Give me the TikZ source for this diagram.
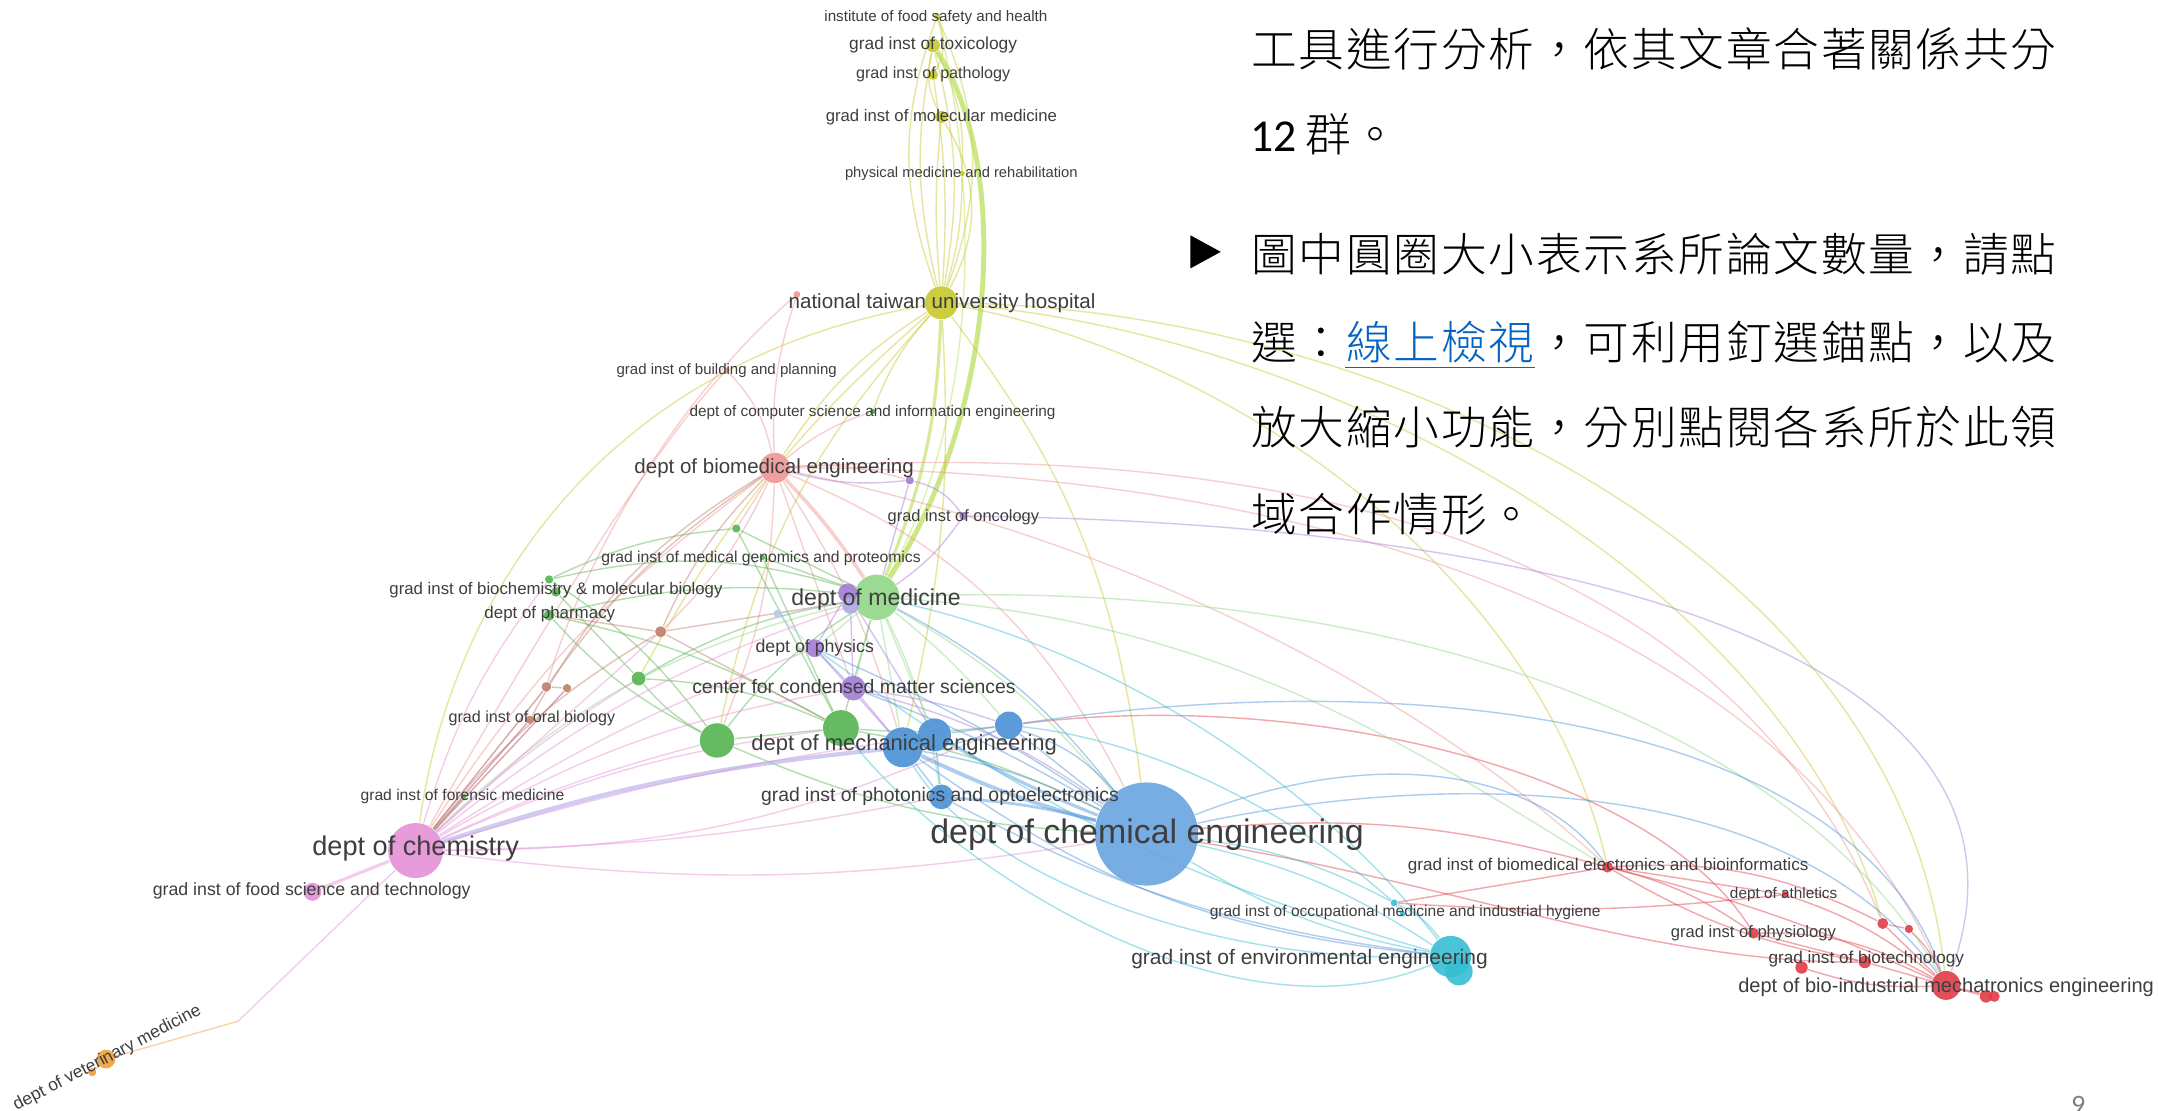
\documentclass[tikz,border=0pt]{standalone}
\usepackage{fontspec}
\usepackage{graphicx}
\setmainfont{Liberation Sans}
\newfontfamily\cjkfont{Noto Sans CJK TC}[UprightFont={* Light}]
\newfontfamily\numfont{Carlito}
\newlength\ux
\setlength{\ux}{0.01376cm}
\newcommand\lb[2]{\resizebox{#1\ux}{!}{\vphantom{dpfgl}#2}}
\ExplSyntaxOn
\NewDocumentCommand\cjkl{m}{\tl_map_inline:nn{#1}{\makebox[34.5\ux]{##1}}}
\ExplSyntaxOff
\definecolor{cYel}{RGB}{200,200,45}
\definecolor{cLime}{RGB}{185,222,85}
\definecolor{cLred}{RGB}{240,150,150}
\definecolor{cRed}{RGB}{225,60,70}
\definecolor{cLgrn}{RGB}{145,215,135}
\definecolor{cGrn}{RGB}{85,180,80}
\definecolor{cPur}{RGB}{165,125,215}
\definecolor{cLpur}{RGB}{175,170,230}
\definecolor{cLblu}{RGB}{185,200,240}
\definecolor{cBrn}{RGB}{190,125,105}
\definecolor{cBlu}{RGB}{75,145,215}
\definecolor{cBluL}{RGB}{105,165,225}
\definecolor{cCyn}{RGB}{55,190,210}
\definecolor{cPnk}{RGB}{230,145,215}
\definecolor{cOrg}{RGB}{240,160,60}
\definecolor{cTxt}{RGB}{62,62,62}
\definecolor{cLink}{RGB}{5,99,193}
\definecolor{cGray}{RGB}{128,128,128}
\pgfdeclarelayer{edges}
\pgfsetlayers{edges,main}
\begin{document}
\begin{tikzpicture}[x=0.01376cm,y=-0.01376cm,
  vn/.style={circle,inner sep=0pt,draw=none,fill opacity=0.9},
  lbl/.style={inner sep=0pt,text=cTxt},
  ed/.style={line width=0.4pt,draw opacity=0.45},
  cj/.style={anchor=base west,inner sep=0pt,font=\cjkfont\fontsize{13pt}{16pt}\selectfont}]
\useasboundingbox (0,0) rectangle (1568,807);
% ---------------- nodes ----------------
\node[vn,fill=cYel,minimum size=4.8\ux] (fsh) at (681,12) {};
\node[vn,fill=cYel,minimum size=10\ux] (tox) at (678,33) {};
\node[vn,fill=cYel,minimum size=7.2\ux] (pat) at (678,54.5) {};
\node[vn,fill=cYel,minimum size=8.8\ux] (mol) at (684,85) {};
\node[vn,fill=cYel,minimum size=4\ux] (phy) at (699,126) {};
\node[vn,fill=cYel,minimum size=24\ux] (ntuh) at (684,220) {};
\node[vn,fill=cLred,minimum size=5\ux] (rp1) at (579,214) {};
\node[vn,fill=cLred,minimum size=4\ux] (bld) at (528,269) {};
\node[vn,fill=cLred,minimum size=22\ux] (bme) at (563,340) {};
\node[vn,fill=cGrn,minimum size=4\ux] (csi) at (634,299) {};
\node[vn,fill=cPur,minimum size=6\ux] (pu1) at (661,349) {};
\node[vn,fill=cPur,minimum size=6\ux] (onc) at (700,375) {};
\node[vn,fill=cGrn,minimum size=6\ux] (g1) at (535,384) {};
\node[vn,fill=cGrn,minimum size=4\ux] (gen) at (554,405) {};
\node[vn,fill=cGrn,minimum size=6\ux] (bc1) at (399,421) {};
\node[vn,fill=cGrn,minimum size=7\ux] (bc2) at (404,430) {};
\node[vn,fill=cGrn,minimum size=8\ux] (phm) at (399,447) {};
\node[vn,fill=cLgrn,minimum size=33\ux] (med) at (637,434) {};
\node[vn,fill=cPur,minimum size=14\ux] (pu2) at (616,431) {};
\node[vn,fill=cLpur,minimum size=12\ux] (pu3) at (618,440) {};
\node[vn,fill=cLblu,minimum size=6\ux] (lb1) at (565,446) {};
\node[vn,fill=cBrn,minimum size=8\ux] (br1) at (480,459) {};
\node[vn,fill=cPur,minimum size=13\ux] (phs) at (592,471) {};
\node[vn,fill=cGrn,minimum size=10\ux] (g2) at (464,493) {};
\node[vn,fill=cBrn,minimum size=7\ux] (br2) at (397,499) {};
\node[vn,fill=cBrn,minimum size=6\ux] (br3) at (412,500) {};
\node[vn,fill=cPur,minimum size=18\ux] (cmc) at (620,500) {};
\node[vn,fill=cBrn,minimum size=6\ux] (orl) at (385,523) {};
\node[vn,fill=cGrn,minimum size=25\ux] (g3) at (521,538) {};
\node[vn,fill=cGrn,minimum size=26\ux] (g4) at (611,529) {};
\node[vn,fill=cBlu,minimum size=20\ux] (me3) at (733,527) {};
\node[vn,fill=cBlu,minimum size=24\ux] (me2) at (679,534) {};
\node[vn,fill=cBlu,minimum size=29\ux] (me1) at (656,543) {};
\node[vn,fill=cBlu,minimum size=18\ux] (pho) at (684,579) {};
\node[vn,fill=cGrn,minimum size=4\ux] (frn) at (337,579) {};
\node[vn,fill=cBluL,minimum size=75\ux] (che) at (833,606) {};
\node[vn,fill=cPnk,minimum size=40\ux] (chm) at (302,618) {};
\node[vn,fill=cPnk,minimum size=13\ux] (fst) at (227,648) {};
\node[vn,fill=cCyn,minimum size=5\ux] (occ1) at (1013,656) {};
\node[vn,fill=cCyn,minimum size=4\ux] (occ2) at (1019,664) {};
\node[vn,fill=cCyn,minimum size=30\ux] (env1) at (1054,695) {};
\node[vn,fill=cCyn,minimum size=20\ux] (env2) at (1060,706) {};
\node[vn,fill=cRed,minimum size=8\ux] (bel) at (1168,630) {};
\node[vn,fill=cRed,minimum size=5\ux] (ath) at (1297,650) {};
\node[vn,fill=cRed,minimum size=8\ux] (psl) at (1274,678) {};
\node[vn,fill=cRed,minimum size=9\ux] (btc) at (1355,699) {};
\node[vn,fill=cRed,minimum size=9\ux] (r5) at (1309,703) {};
\node[vn,fill=cRed,minimum size=8\ux] (r6) at (1368,671) {};
\node[vn,fill=cRed,minimum size=6\ux] (r7) at (1387,675) {};
\node[vn,fill=cRed,minimum size=21\ux] (bim) at (1414,716) {};
\node[vn,fill=cRed,minimum size=9\ux] (r8) at (1443,724) {};
\node[vn,fill=cRed,minimum size=8\ux] (r9) at (1449,724) {};
\node[vn,fill=cOrg,minimum size=13.6\ux] (vet1) at (77,769.5) {};
\node[vn,fill=cOrg,minimum size=6\ux] (vet2) at (67,779) {};
\coordinate (vb) at (173,742);
% ---------------- edges ----------------
\begin{pgfonlayer}{edges}
\fill[white] (0,0) rectangle (1568,807);
% yellow
\draw[ed,cYel] (ntuh) to[bend left=12] (tox);
\draw[ed,cYel] (ntuh) to[bend right=12] (tox);
\draw[ed,cYel] (ntuh) to[bend left=20] (fsh);
\draw[ed,cYel] (ntuh) to[bend right=22] (fsh);
\draw[ed,cYel] (ntuh) to[bend right=6] (pat);
\draw[ed,cYel] (ntuh) to[bend left=5] (mol);
\draw[ed,cYel] (ntuh) to[bend right=30] (mol);
\draw[ed,cYel] (ntuh) to[bend right=8] (phy);
\draw[ed,cYel] (mol) to[bend left=20] (tox);
\draw[ed,cYel] (phy) to[bend right=15] (tox);
\draw[ed,cYel] (fsh) to[bend left=25] (pat);
\draw[ed,cLime,line width=1.4pt,draw opacity=0.7] (med) .. controls (725,300) and (735,120) .. (tox);
\draw[ed,cLime,line width=0.9pt,draw opacity=0.6] (med) to[bend right=10] (ntuh);
\draw[ed,cLime] (med) .. controls (712,300) and (712,140) .. (fsh);
\draw[ed,cYel] (ntuh) to[bend right=12] (bme);
\draw[ed,cYel] (ntuh) .. controls (450,260) and (330,420) .. (chm);
\draw[ed,cYel] (ntuh) to[bend right=15] (g3);
\draw[ed,cYel] (ntuh) to[bend left=8] (me1);
\draw[ed,cYel] (ntuh) to[bend left=15] (che);
\draw[ed,cYel] (ntuh) to[bend right=10] (g2);
\draw[ed,cYel] (ntuh) .. controls (1000,225) and (1380,400) .. (bim);
\draw[ed,cYel] (ntuh) .. controls (980,245) and (1300,430) .. (r6);
\draw[ed,cYel] (ntuh) .. controls (900,260) and (1120,420) .. (bel);
\draw[ed,cYel] (csi) to[bend left=10] (ntuh);
% light red
\draw[ed,cLred,line width=1pt] (bme) to[bend left=5] (med);
\draw[ed,cLred] (bme) to[bend right=10] (chm);
\draw[ed,cLred] (bme) to[bend left=10] (g3);
\draw[ed,cLred] (bme) to[bend left=10] (br1);
\draw[ed,cLred] (bme) to (g1);
\draw[ed,cLred] (bme) to[bend left=10] (pu1);
\draw[ed,cLred] (bme) to[bend left=20] (che);
\draw[ed,cLred] (bme) to[bend left=8] (me1);
\draw[ed,cLred] (bme) to (cmc);
\draw[ed,cLred] (bld) to[bend left=15] (bme);
\draw[ed,cLred] (bld) .. controls (470,330) and (380,480) .. (chm);
\draw[ed,cLred] (rp1) to[bend right=10] (bme);
\draw[ed,cLred] (rp1) .. controls (480,300) and (420,420) .. (br2);
\draw[ed,cLred] (bme) .. controls (900,320) and (1250,380) .. (r6);
\draw[ed,cLred] (bme) .. controls (950,340) and (1300,450) .. (bim);
\draw[ed,cLred] (bme) .. controls (850,400) and (1050,520) .. (bel);
\draw[ed,cLred] (csi) to[bend right=10] (bme);
% red cluster
\draw[ed,cRed] (bel) to[bend left=10] (psl);
\draw[ed,cRed] (bel) to[bend right=10] (btc);
\draw[ed,cRed] (bel) to[bend left=5] (bim);
\draw[ed,cRed] (bel) to[bend left=15] (r6);
\draw[ed,cRed] (bel) to (ath);
\draw[ed,cRed] (ath) to[bend left=10] (bim);
\draw[ed,cRed] (psl) to[bend left=15] (bim);
\draw[ed,cRed] (psl) to (btc);
\draw[ed,cRed] (btc) to (bim);
\draw[ed,cRed] (r6) to (bim);
\draw[ed,cRed] (r7) to[bend left=10] (bim);
\draw[ed,cRed] (r5) to[bend right=10] (bim);
\draw[ed,cRed] (bim) to (r8);
\draw[ed,cRed] (bim) to (r9);
\draw[ed,cRed] (r6) to (r7);
\draw[ed,cRed] (occ1) to[bend right=5] (ath);
\draw[ed,cRed] (occ1) to (bel);
\draw[ed,cRed] (che) to[bend left=10] (bel);
\draw[ed,cRed] (me3) .. controls (950,500) and (1200,560) .. (psl);
\draw[ed,cRed] (che) .. controls (1050,640) and (1200,700) .. (btc);
% green / medicine
\draw[ed,cGrn] (med) to[bend right=10] (g3);
\draw[ed,cGrn] (med) to (g4);
\draw[ed,cGrn] (med) to[bend right=10] (g2);
\draw[ed,cGrn] (med) to[bend right=15] (bc1);
\draw[ed,cGrn] (med) to[bend right=10] (phm);
\draw[ed,cGrn] (med) to (g1);
\draw[ed,cGrn] (med) to (gen);
\draw[ed,cLgrn] (med) to (cmc);
\draw[ed,cLgrn] (med) to (phs);
\draw[ed,cLgrn] (med) to (me1);
\draw[ed,cLgrn] (med) to (me2);
\draw[ed,cLgrn] (med) to[bend left=5] (me3);
\draw[ed,cLgrn] (med) to[bend left=10] (che);
\draw[ed,cLgrn] (med) to[bend right=15] (chm);
\draw[ed,cLgrn] (med) to[bend left=8] (pho);
\draw[ed,cLgrn] (med) .. controls (900,450) and (1050,560) .. (bel);
\draw[ed,cLgrn] (med) .. controls (1000,420) and (1300,520) .. (bim);
\draw[ed,cGrn] (g3) to (g4);
\draw[ed,cGrn] (g3) to[bend left=10] (phm);
\draw[ed,cGrn] (g2) to (bc2);
\draw[ed,cGrn] (g2) to[bend right=10] (g3);
\draw[ed,cGrn] (g2) to[bend left=10] (g4);
\draw[ed,cGrn] (g4) to[bend left=8] (che);
\draw[ed,cGrn] (g3) to[bend right=10] (che);
\draw[ed,cGrn] (g1) to (g4);
\draw[ed,cGrn] (gen) to (g4);
\draw[ed,cGrn] (bc1) to[bend left=10] (g3);
\draw[ed,cGrn] (phm) to[bend left=8] (g4);
\draw[ed,cGrn] (g1) to[bend right=10] (bc1);
\draw[ed,cGrn] (frn) to (chm);
\draw[ed,cGrn] (g4) to[bend right=5] (me3);
% pink / chemistry
\draw[ed,cPnk] (chm) to[bend left=5] (g3);
\draw[ed,cPnk] (chm) to[bend left=8] (g4);
\draw[ed,cPnk] (chm) to[bend left=10] (cmc);
\draw[ed,cLpur,line width=1.2pt,draw opacity=0.6] (chm) to[bend left=6] (me1);
\draw[ed,cPnk] (chm) to[bend right=8] (che);
\draw[ed,cPnk] (chm) to[bend left=10] (med);
\draw[ed,cPnk] (chm) to[bend left=6] (phs);
\draw[ed,cPnk] (chm) to[bend right=5] (pho);
\draw[ed,cPnk] (chm) to (br1);
\draw[ed,cPnk] (chm) to (orl);
\draw[ed,cPnk] (chm) to[bend left=5] (g2);
\draw[ed,cPnk] (chm) to[bend left=10] (bc1);
\draw[ed,cPnk,line width=0.9pt] (chm) to (fst);
\draw[ed,cPnk] (chm) to (br2);
\draw[ed,cPnk] (chm) to (br3);
\draw[ed,cPnk] (chm) to[bend left=4] (me2);
\draw[ed,cPnk] (chm) to[bend right=12] (me3);
% purple
\draw[ed,cPur] (cmc) to (me1);
\draw[ed,cPur] (cmc) to[bend left=10] (che);
\draw[ed,cPur] (cmc) to (phs);
\draw[ed,cPur] (phs) to (pu2);
\draw[ed,cPur] (pu2) to (med);
\draw[ed,cPur] (pu1) to[bend left=10] (bme);
\draw[ed,cPur] (pu1) to[bend left=20] (onc);
\draw[ed,cPur] (onc) to[bend left=10] (med);
\draw[ed,cPur] (pu1) to (med);
\draw[ed,cPur] (phs) to (me1);
\draw[ed,cPur] (pu2) to (me2);
\draw[ed,cPur] (cmc) to[bend left=5] (me3);
\draw[ed,cPur] (onc) .. controls (1150,380) and (1500,480) .. (bim);
\draw[ed,cPur] (pu3) to (cmc);
% blue
\draw[ed,cBlu,line width=1.1pt] (che) to[bend left=5] (me1);
\draw[ed,cBlu] (che) to[bend right=8] (me1);
\draw[ed,cBlu,line width=0.9pt] (che) to[bend left=4] (me2);
\draw[ed,cBlu] (che) to (me3);
\draw[ed,cBlu,line width=0.8pt] (che) to[bend right=5] (pho);
\draw[ed,cBlu] (me1) to (me2);
\draw[ed,cBlu] (me1) to[bend right=10] (me3);
\draw[ed,cBlu] (me2) to (me3);
\draw[ed,cBlu] (pho) to (me1);
\draw[ed,cBlu] (pho) to (me2);
\draw[ed,cBlu] (me3) to[bend left=15] (che);
\draw[ed,cBlu] (che) to[bend right=5] (cmc);
\draw[ed,cBlu] (che) to[bend right=5] (phs);
\draw[ed,cBlu] (che) .. controls (1000,540) and (1120,560) .. (bel);
\draw[ed,cBlu] (me3) .. controls (1050,480) and (1350,530) .. (bim);
\draw[ed,cBlu] (che) .. controls (1050,560) and (1300,560) .. (bim);
\draw[ed,cBlu] (me1) to[bend right=15] (env1);
\draw[ed,cBlu] (pho) to[bend right=10] (env1);
\draw[ed,cBlu] (med) to[bend left=12] (che);
% cyan
\draw[ed,cCyn] (env1) to[bend left=10] (che);
\draw[ed,cCyn] (env1) to[bend right=10] (che);
\draw[ed,cCyn] (env1) to[bend right=15] (occ1);
\draw[ed,cCyn] (occ1) to[bend right=10] (che);
\draw[ed,cCyn] (env1) .. controls (850,700) and (700,620) .. (me1);
\draw[ed,cCyn] (env1) .. controls (950,560) and (800,470) .. (med);
\draw[ed,cCyn] (env1) to[bend left=10] (phs);
\draw[ed,cCyn] (occ1) .. controls (950,600) and (850,540) .. (me3);
\draw[ed,cCyn] (env2) to (env1);
\draw[ed,cCyn] (occ2) to (occ1);
\draw[ed,cCyn] (env1) .. controls (900,760) and (700,640) .. (g4);
% brown
\draw[ed,cBrn] (br1) to[bend left=10] (bme);
\draw[ed,cBrn] (br1) to[bend right=10] (chm);
\draw[ed,cBrn] (br2) to (chm);
\draw[ed,cBrn] (br3) to (chm);
\draw[ed,cBrn] (orl) to (chm);
\draw[ed,cBrn] (br1) to (med);
\draw[ed,cBrn] (br2) to[bend left=10] (bme);
\draw[ed,cBrn] (br1) to (g4);
\draw[ed,cBrn] (br3) to (br2);
\draw[ed,cBrn] (orl) to[bend left=15] (bme);
\draw[ed,cBrn] (br1) to (phm);
% light blue
\draw[ed,cLblu] (lb1) to (med);
\draw[ed,cLblu] (lb1) to (cmc);
% orange / veterinary
\draw[ed,cOrg] (vet1) -- (vb);
\draw[ed,cPnk] (vb) -- (chm);
\draw[ed,cOrg] (vet1) -- (vet2);
\end{pgfonlayer}
% ---------------- labels ----------------
\node[lbl] (tFsh) at (680,12.5) {\lb{162}{institute of food safety and health}};
\node[lbl] (tTox) at (678,33) {\lb{122}{grad inst of toxicology}};
\node[lbl] (tPat) at (678,54) {\lb{112}{grad inst of pathology}};
\node[lbl] (tMol) at (684,85) {\lb{168}{grad inst of molecular medicine}};
\node[lbl] (tPhy) at (698.5,126.5) {\lb{169}{physical medicine and rehabilitation}};
\node[lbl] (tNtuh) at (684.5,220.5) {\lb{223}{national taiwan university hospital}};
\node[lbl] (tBld) at (528,269) {\lb{160}{grad inst of building and planning}};
\node[lbl] (tCsi) at (634,299.6) {\lb{266}{dept of computer science and information engineering}};
\node[lbl] (tBme) at (562.5,340.5) {\lb{203}{dept of biomedical engineering}};
\node[lbl] (tOnc) at (700,376) {\lb{110}{grad inst of oncology}};
\node[lbl] (tGen) at (553,406) {\lb{232}{grad inst of medical genomics and proteomics}};
\node[lbl] (tBc) at (404,429) {\lb{242}{grad inst of biochemistry \& molecular biology}};
\node[lbl] (tPhm) at (399.5,446) {\lb{95}{dept of pharmacy}};
\node[lbl] (tMed) at (636.5,435.5) {\lb{123}{dept of medicine}};
\node[lbl] (tPhs) at (592,471) {\lb{86}{dept of physics}};
\node[lbl] (tCmc) at (620.5,500.5) {\lb{235}{center for condensed matter sciences}};
\node[lbl] (tOrl) at (386.5,522) {\lb{121}{grad inst of oral biology}};
\node[lbl] (tMe) at (657,541.5) {\lb{222}{dept of mechanical engineering}};
\node[lbl] (tPho) at (683,579) {\lb{260}{grad inst of photonics and optoelectronics}};
\node[lbl] (tFrn) at (336,579) {\lb{148}{grad inst of forensic medicine}};
\node[lbl] (tChm) at (302,616.5) {\lb{150}{dept of chemistry}};
\node[lbl] (tFst) at (226.5,647) {\lb{231}{grad inst of food science and technology}};
\node[lbl] (tChe) at (833.5,606.5) {\lb{315}{dept of chemical engineering}};
\node[lbl] (tBel) at (1168.5,629) {\lb{291}{grad inst of biomedical electronics and bioinformatics}};
\node[lbl] (tAth) at (1296,650) {\lb{78}{dept of athletics}};
\node[lbl] (tOcc) at (1021,663) {\lb{284}{grad inst of occupational medicine and industrial hygiene}};
\node[lbl] (tPsl) at (1274,678) {\lb{120}{grad inst of physiology}};
\node[lbl] (tEnv) at (951.5,697) {\lb{259}{grad inst of environmental engineering}};
\node[lbl] (tBtc) at (1356,697) {\lb{142}{grad inst of biotechnology}};
\node[lbl] (tBim) at (1414,717.5) {\lb{302}{dept of bio-industrial mechatronics engineering}};
\node[lbl,rotate=27.6] (tVet) at (78,769) {\lb{152}{dept of veterinary medicine}};
% ---------------- Chinese text ----------------
\node[cj] (c1) at (908,48) {\cjkl{工具進行分析，依其文章合著關係共分}};
\node[cj] (c2) at (908,110) {{\numfont 12}\hspace{2.2pt}\cjkl{群。}};
\fill[black] (865,171) -- (865,195) -- (887,183) -- cycle;
\node[cj] (c3) at (908,197) {\cjkl{圖中圓圈大小表示系所論文數量，請點}};
\node[cj] (c4) at (908,261) {\cjkl{選：}\textcolor{cLink}{\underline{\cjkl{線上檢視}}}\cjkl{，可利用釘選錨點，以及}};
\node[cj] (c5) at (908,323) {\cjkl{放大縮小功能，分別點閱各系所於此領}};
\node[cj] (c6) at (908,386) {\cjkl{域合作情形。}};
\node[anchor=base,inner sep=0pt,text=cGray,font=\numfont\fontsize{8pt}{9pt}\selectfont] (pg) at (1510,810) {9};
\end{tikzpicture}
\end{document}
